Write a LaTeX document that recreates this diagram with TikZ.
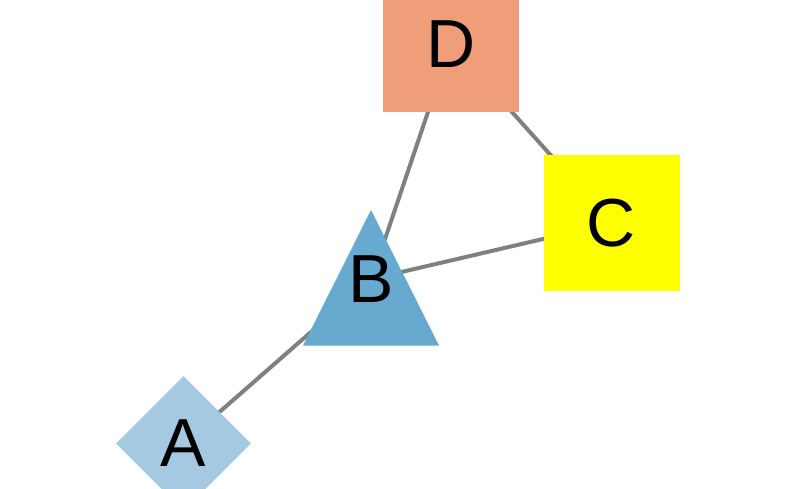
\documentclass[tikz,border=0pt]{standalone}
\usepackage{fontspec}
\setmainfont{Liberation Sans}
\usetikzlibrary{shapes.geometric,backgrounds}
\definecolor{dcol}{RGB}{240,158,122}
\definecolor{ccol}{RGB}{255,255,0}
\definecolor{bcol}{RGB}{103,169,207}
\definecolor{acol}{RGB}{164,201,224}
\definecolor{edgegray}{RGB}{128,128,128}
\begin{document}
\begin{tikzpicture}[x=1pt,y=-1pt,
  lbl/.style={font=\fontsize{68}{68}\selectfont, inner sep=0pt, text=black},
  sqnode/.style={lbl, rectangle, minimum width=136pt, minimum height=136pt},
  dianode/.style={lbl, diamond, aspect=1, minimum width=135pt, minimum height=135pt},
  edge/.style={draw=edgegray, line width=4pt}]
\useasboundingbox (0,0) rectangle (795,488);
\clip (0,0) rectangle (795,488);
\node[sqnode, fill=dcol] (D) at (451,44) {D};
\node[sqnode, fill=ccol] (C) at (611.5,223) {C};
\node[dianode, fill=acol] (A) at (183.5,443.5) {A};
\fill[bcol] (371,210) -- (439,345.5) -- (303,345.5) -- cycle;
\node[lbl] (B) at (371.5,279) {B};
\begin{scope}[on background layer]
\draw[edge] (A.center) -- (B.center);
\draw[edge] (B.center) -- (D.center);
\draw[edge] (B.center) -- (C.center);
\draw[edge] (D.center) -- (C.center);
\end{scope}
\end{tikzpicture}
\end{document}
